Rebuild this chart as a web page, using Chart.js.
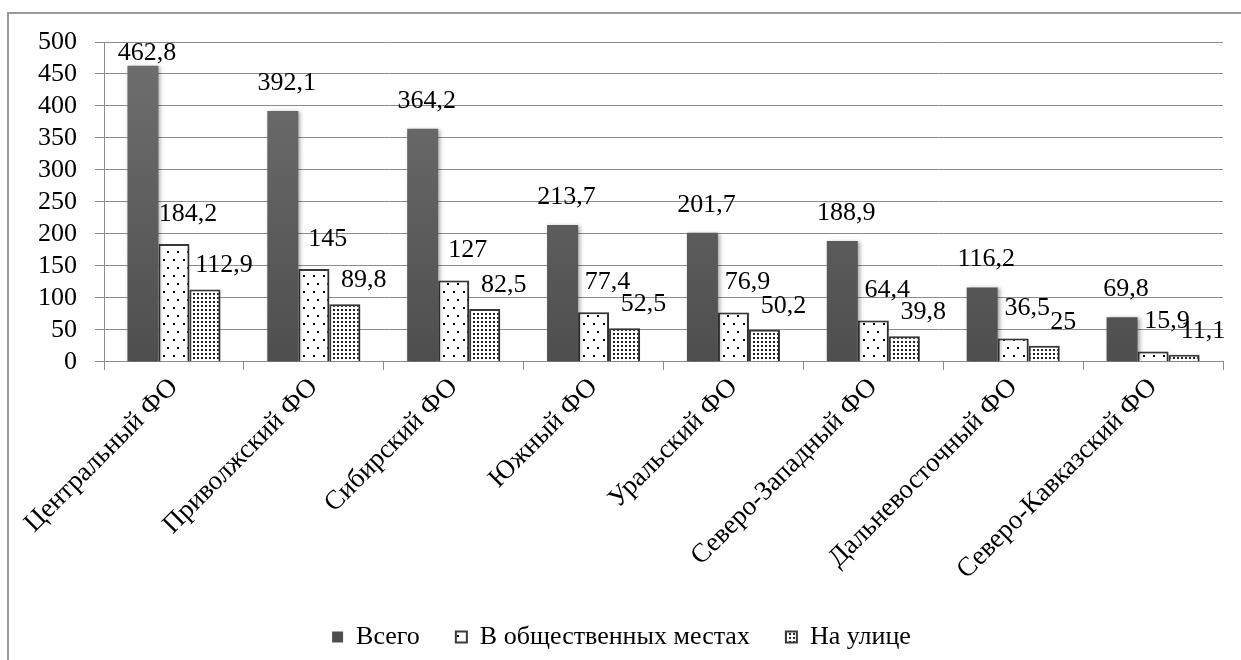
<!DOCTYPE html>
<html>
<head>
<meta charset="utf-8">
<script src="https://cdn.jsdelivr.net/npm/chart.js@4"></script>
<style>
  html, body { margin: 0; padding: 0; background: #fff; }
  #wrap { width: 1241px; height: 660px; }
</style>
</head>
<body>
<div id="wrap"><canvas id="myChart" width="1241" height="660"></canvas></div>
<script>
// данные по округам
const okruga = ["Центральный ФО", "Приволжский ФО", "Сибирский ФО", "Южный ФО",
  "Уральский ФО", "Северо-Западный ФО", "Дальневосточный ФО", "Северо-Кавказский ФО"];
const vsego = [462.8, 392.1, 364.2, 213.7, 201.7, 188.9, 116.2, 69.8];
const obshMesta = [184.2, 145, 127, 77.4, 76.9, 64.4, 36.5, 15.9];
const naUlice = [112.9, 89.8, 82.5, 52.5, 50.2, 39.8, 25, 11.1];
const yTicks = [0, 50, 100, 150, 200, 250, 300, 350, 400, 450, 500];

const shrift = "Liberation Serif";
const razmer = 26;
Chart.defaults.font.family = shrift;
Chart.defaults.font.size = razmer;
Chart.defaults.color = "#000";

// узоры для столбцов
function makePattern(w, h, dots, size, color) {
  const c = document.createElement("canvas");
  c.width = w; c.height = h;
  const g = c.getContext("2d");
  g.fillStyle = "#fff";
  g.fillRect(0, 0, w, h);
  g.fillStyle = color;
  dots.forEach(d => g.fillRect(d[0], d[1], size, size));
  return g.createPattern(c, "repeat");
}
const redkieTochki = makePattern(10, 16, [[3, 3], [7, 11]], 2, "#000");
const gustyeTochki = makePattern(4, 4, [[1, 1]], 2, "#222");

function gradient(context) {
  const area = context.chart.chartArea;
  if (!area) return "#5a5a5a";
  const gr = context.chart.ctx.createLinearGradient(0, area.bottom, 0, area.top);
  gr.addColorStop(0, "#4e4e4e");
  gr.addColorStop(1, "#707070");
  return gr;
}

// рамка вокруг рисунка
const ramka = {
  id: "ramka",
  beforeDraw(chart) {
    const c = chart.ctx;
    c.save();
    c.strokeStyle = "#9a9a9a";
    c.lineWidth = 2;
    c.beginPath();
    c.moveTo(8, 660);
    c.lineTo(8, 13);
    c.lineTo(1241, 13);
    c.stroke();
    c.restore();
  }
};

// тень у столбцов
const ten = {
  id: "ten",
  beforeDatasetDraw(chart) {
    const c = chart.ctx;
    c.save();
    c.shadowColor = "rgba(0,0,0,0.35)";
    c.shadowBlur = 4;
    c.shadowOffsetX = 2;
    c.shadowOffsetY = 1;
  },
  afterDatasetDraw(chart) {
    chart.ctx.restore();
  }
};

// подписи значений
const sdvig = [[4, -28], [14, -30], [19, -24]];
const podpisi = {
  id: "podpisi",
  afterDatasetsDraw(chart) {
    const c = chart.ctx;
    c.save();
    c.font = razmer + "px " + shrift;
    c.fillStyle = "#000";
    c.textAlign = "center";
    c.textBaseline = "middle";
    chart.data.datasets.forEach((ds, i) => {
      const meta = chart.getDatasetMeta(i);
      meta.data.forEach((bar, j) => {
        const txt = String(ds.data[j]).replace(".", ",");
        let y = bar.y + sdvig[i][1];
        if (y < 53) y = 53;
        c.fillText(txt, bar.x + sdvig[i][0], y);
      });
    });
    c.restore();
  }
};

const config = {
  type: "bar",
  data: {
    labels: okruga,
    datasets: [
      {
        label: "Всего",
        data: vsego,
        backgroundColor: gradient,
        borderWidth: 0
      },
      {
        label: "В общественных местах",
        data: obshMesta,
        backgroundColor: redkieTochki,
        borderColor: "#3a3a3a",
        borderWidth: 2
      },
      {
        label: "На улице",
        data: naUlice,
        backgroundColor: gustyeTochki,
        borderColor: "#3a3a3a",
        borderWidth: 2
      }
    ]
  },
  options: {
    responsive: false,
    animation: false,
    layout: { padding: { left: 20, right: 18, top: 42, bottom: 0 } },
    datasets: { bar: { categoryPercentage: 0.665, barPercentage: 1 } },
    plugins: {
      legend: {
        position: "bottom",
        labels: {
          font: { family: shrift, size: razmer },
          color: "#000",
          boxWidth: 11,
          boxHeight: 11,
          padding: 36
        }
      },
      tooltip: { enabled: false }
    },
    scales: {
      y: {
        min: 0,
        max: 500,
        afterBuildTicks(axis) {
          axis.ticks = yTicks.map(v => ({ value: v }));
        },
        ticks: {
          font: { family: shrift, size: razmer },
          color: "#000",
          padding: 18,
          autoSkip: false
        },
        grid: { color: "#8c8c8c", tickLength: 9, lineWidth: 1 },
        border: { color: "#8c8c8c" }
      },
      x: {
        ticks: {
          font: { family: shrift, size: 27 },
          color: "#000",
          minRotation: 45,
          maxRotation: 45,
          autoSkip: false,
          padding: 2
        },
        grid: { drawOnChartArea: false, color: "#8c8c8c", tickLength: 8, offset: true },
        border: { color: "#8c8c8c" }
      }
    }
  },
  plugins: [ramka, ten, podpisi]
};

new Chart(document.getElementById("myChart"), config);
</script>
</body>
</html>
